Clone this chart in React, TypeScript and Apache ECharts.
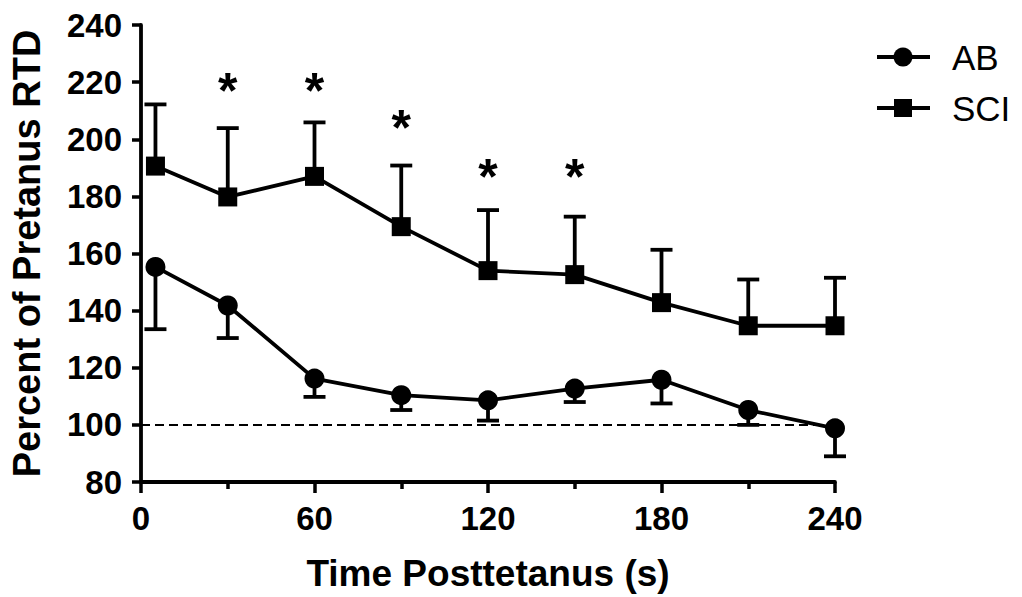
import React, { useEffect, useRef } from "react";
import * as echarts from "echarts";

const timeSec = [5, 30, 60, 90, 120, 150, 180, 210, 240];
const abMean = [155.3, 141.8, 116.2, 110.4, 108.6, 112.7, 115.8, 105.2, 98.8];
const abLower = [133.5, 130.4, 109.8, 105.2, 101.5, 108, 107.5, 100, 89];
const sciMean = [190.6, 179.8, 187, 169.4, 154, 152.6, 142.8, 134.7, 134.7];
const sciUpper = [212.2, 203.9, 205.9, 190.8, 175.2, 172.9, 161.3, 150.9, 151.5];
const starX = [30, 60, 90, 120, 150];
const starY = [220, 220, 207, 190, 190];
const baseline = 100;
const xTicks = [0, 60, 120, 180, 240];
const yTicks = [80, 100, 120, 140, 160, 180, 200, 220, 240];
const legendNames = ["AB", "SCI"];

const SANS = "'Liberation Sans', Arial, sans-serif";

export default function App() {
  const ref = useRef<HTMLDivElement>(null);
  useEffect(() => {
    if (!ref.current) return;
    const chart = echarts.init(ref.current, undefined, { renderer: "svg" });
    const errRender = (params: any, api: any) => {
      const x = api.value(0);
      const m = api.value(1);
      const e = api.value(2);
      const p0 = api.coord([x, m]);
      const p1 = api.coord([x, e]);
      const style = { stroke: "#000", lineWidth: 3.8 };
      return {
        type: "group",
        children: [
          { type: "line", shape: { x1: p0[0], y1: p0[1], x2: p1[0], y2: p1[1] }, style },
          { type: "line", shape: { x1: p1[0] - 11, y1: p1[1], x2: p1[0] + 11, y2: p1[1] }, style },
        ],
      };
    };
    const lg = (row: number, marker: any) => {
      const cy = 57 + row * 51;
      return {
        type: "group",
        children: [
          { type: "line", shape: { x1: 877, y1: cy, x2: 930, y2: cy }, style: { stroke: "#000", lineWidth: 3.8 } },
          marker(cy),
          {
            type: "text",
            x: 952,
            y: cy,
            style: {
              text: legendNames[row],
              font: "35px " + SANS,
              fill: "#000",
              verticalAlign: "middle",
              align: "left",
            },
          },
        ],
      };
    };
    const option: any = {
      animation: false,
      backgroundColor: "#fff",
      grid: { left: 138, right: 187, top: 25, bottom: 111, containLabel: false },
      graphic: [
        lg(0, (cy: number) => ({ type: "circle", shape: { cx: 903, cy, r: 9.5 }, style: { fill: "#000" } })),
        lg(1, (cy: number) => ({ type: "rect", shape: { x: 894, y: cy - 9, width: 18, height: 18 }, style: { fill: "#000" } })),
      ],
      xAxis: {
        type: "value",
        min: 0,
        max: 240,
        interval: 60,
        name: "Time Posttetanus (s)",
        nameLocation: "middle",
        nameGap: 73,
        nameTextStyle: { fontFamily: SANS, fontWeight: "bold", fontSize: 37, color: "#000" },
        axisLine: { lineStyle: { color: "#000", width: 3.8 } },
        axisTick: { length: 11, lineStyle: { color: "#000", width: 3.5 } },
        minorTick: { show: true, splitNumber: 2, length: 7, lineStyle: { color: "#000", width: 3.5 } },
        splitLine: { show: false },
        axisLabel: {
          fontFamily: SANS,
          fontWeight: "bold",
          fontSize: 33,
          color: "#000",
          margin: 20,
          customValues: xTicks,
        },
      },
      yAxis: {
        type: "value",
        min: 80,
        max: 240,
        interval: 20,
        name: "Percent of Pretanus RTD",
        nameLocation: "middle",
        nameGap: 95,
        nameTextStyle: { fontFamily: SANS, fontWeight: "bold", fontSize: 38, color: "#000" },
        axisLine: { lineStyle: { color: "#000", width: 3.8 } },
        axisTick: { length: 9, lineStyle: { color: "#000", width: 3.5 } },
        splitLine: { show: false },
        axisLabel: {
          fontFamily: SANS,
          fontWeight: "bold",
          fontSize: 33,
          color: "#000",
          margin: 19,
          customValues: yTicks,
        },
      },
      series: [
        {
          name: "baseline",
          type: "line",
          data: [[0, baseline], [240, baseline]],
          symbol: "none",
          lineStyle: { color: "#000", width: 2, type: [9, 5] },
          z: 1,
          silent: true,
        },
        {
          name: "abErr",
          type: "custom",
          renderItem: errRender,
          data: timeSec.map((t, i) => [t, abMean[i], abLower[i]]),
          z: 2,
          silent: true,
        },
        {
          name: "sciErr",
          type: "custom",
          renderItem: errRender,
          data: timeSec.map((t, i) => [t, sciMean[i], sciUpper[i]]),
          z: 2,
          silent: true,
        },
        {
          name: "AB",
          type: "line",
          data: timeSec.map((t, i) => [t, abMean[i]]),
          symbol: "circle",
          symbolSize: 20,
          itemStyle: { color: "#000" },
          lineStyle: { color: "#000", width: 3.8 },
          z: 3,
        },
        {
          name: "SCI",
          type: "line",
          data: timeSec.map((t, i) => [t, sciMean[i]]),
          symbol: "rect",
          symbolSize: 19,
          itemStyle: { color: "#000" },
          lineStyle: { color: "#000", width: 3.8 },
          z: 3,
        },
        {
          name: "stars",
          type: "custom",
          renderItem: (params: any, api: any) => {
            const p = api.coord([api.value(0), api.value(1)]);
            return {
              type: "text",
              x: p[0],
              y: p[1] + 9,
              style: {
                text: "*",
                fill: "#000",
                font: "bold 50px " + SANS,
                align: "center",
                verticalAlign: "middle",
              },
            };
          },
          data: starX.map((t, i) => [t, starY[i]]),
          z: 4,
          silent: true,
        },
      ],
    };
    chart.setOption(option);
    return () => chart.dispose();
  }, []);
  return (
    <div
      ref={ref}
      style={{ position: "fixed", left: 0, top: 0, width: 1022, height: 597, background: "#fff" }}
    />
  );
}
